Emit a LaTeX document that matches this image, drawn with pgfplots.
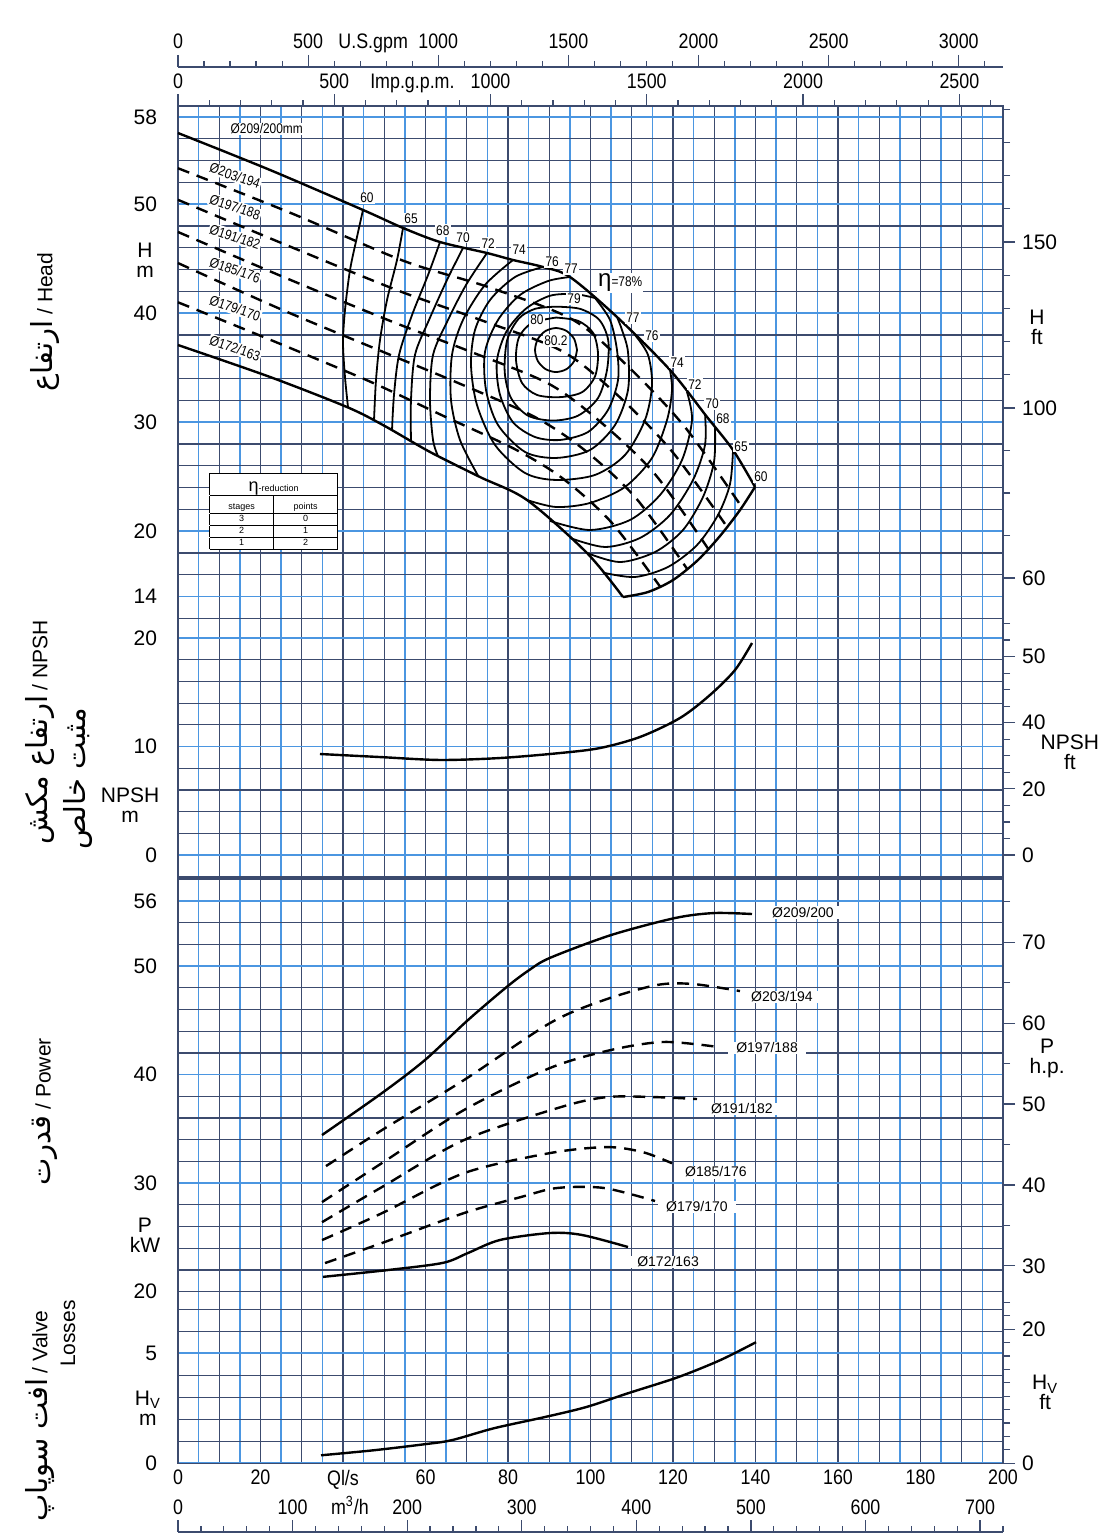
\documentclass[border=0pt]{standalone}
\usepackage{fontspec}
\setmainfont{Liberation Sans}
\newfontfamily\narrowfont[FakeStretch=0.85]{Liberation Sans}
\newfontfamily\farsi[Script=Arabic]{DejaVu Sans}
\usepackage{pgfplots}
\pgfplotsset{compat=1.18}
\TeXXeTstate=1

\definecolor{gdark}{RGB}{60,75,110}
\definecolor{gblue}{RGB}{75,150,225}
\newcommand\tk{\fontsize{10.5}{10}\selectfont}
\newcommand\sm{\narrowfont\fontsize{7}{8}\selectfont}
\newcommand\ttl{\fontsize{10.5}{12}\selectfont}
\newcommand\fa[1]{{\farsi\fontsize{14.5}{15}\selectfont\beginR #1\endR}}

\tikzset{lab/.style={font=\sm, fill=white, inner sep=0.6pt}}
\pgfplotsset{
  panel/.style={
    width=412.5pt, scale only axis, anchor=north west,
    xmin=0, xmax=200, clip=false,
    xtick={0,10,...,200}, minor xtick={5,15,...,195}, xticklabels={},
    grid=both,
    major x grid style={gdark, line width=0.7pt},
    minor x grid style={gblue, line width=0.7pt},
    major y grid style={gblue, line width=0.8pt},
    minor y grid style={gdark, line width=0.6pt},
    major tick length=0pt, minor tick length=0pt,
    axis line style={-, gdark, line width=0.7pt},
    tick label style={font=\tk, /pgf/number format/assume math mode=true},
    yticklabel style={xshift=-7pt},
  },
  rax/.style={
    width=412.5pt, scale only axis, anchor=north west, xmin=0, xmax=200,
    axis x line=none, axis y line*=right, tick align=outside,
    major tick length=6pt, minor tick length=3.5pt,
    tick style={gdark, line width=0.6pt},
    axis line style={draw=none},
    tick label style={font=\tk, /pgf/number format/assume math mode=true},
  },
  sax/.style={
    width=412.5pt, height=10pt, scale only axis, anchor=north west,
    ymin=0, ymax=1, axis y line=none, axis x line*=top, tick align=outside,
    major tick length=6pt, minor tick length=3pt,
    tick style={gdark, line width=0.6pt},
    axis line style={-, gdark, line width=0.8pt},
    xticklabel style={font=\narrowfont\tk, anchor=base, yshift=3pt, /pgf/number format/assume math mode=true, /pgf/number format/1000 sep={}},
    extra x tick style={tick style={draw=none}},
  },
  solid curve/.style={black, line width=1.2pt, smooth},
  dash curve/.style={black, line width=1.2pt, smooth, dash pattern=on 6pt off 4pt},
  eff/.style={black, line width=0.9pt, smooth},
}

\begin{document}
\begin{tikzpicture}
\path[use as bounding box] (0,0) rectangle (554pt,-767.5pt);

% ---------------- head panel
\begin{axis}[panel, at={(89pt,-53.05pt)}, height=256.15pt,
  ymin=12, ymax=59, ytick={14,20,30,40,50,58}, minor ytick={12,14,...,58}]
% impeller curves
\addplot[solid curve] coordinates {(0,56.53) (22.30,53.14) (44.85,49.47) (54.55,47.82) (63.52,46.53) (74.91,45.52) (81.21,44.88) (88.48,44.24) (95.03,43.32) (106.42,39.65) (119.27,34.79) (128.24,30.48) (134.55,27.45) (139.88,24.06)};
\addplot[dash curve] coordinates {(0,53.3) (27.3,49.2) (54.7,44.8) (75.2,42.4) (95.7,39.4) (109.4,35.0) (123.0,29.5) (136.7,22.2)};
\addplot[dash curve] coordinates {(0,50.4) (26.6,46.2) (53.2,42.1) (73.2,39.4) (93.2,36.5) (106.5,32.5) (119.8,27.3) (133.1,20.4)};
\addplot[dash curve] coordinates {(0,47.45) (25.7,43.3) (51.4,39.3) (70.7,36.5) (90.0,33.5) (102.8,29.9) (115.7,25.2) (128.5,18.4)};
\addplot[dash curve] coordinates {(0,44.6) (24.7,40.4) (49.4,36.5) (67.9,33.6) (86.4,30.5) (98.7,27.4) (111.1,23.0) (123.4,16.55)};
\addplot[dash curve] coordinates {(0,41.0) (23.4,37.4) (46.7,33.7) (64.2,30.6) (81.8,27.5) (93.4,24.8) (105.1,20.8) (116.8,14.95)};
\addplot[solid curve] coordinates {(0,37.08) (22.30,34.15) (40.97,31.39) (49.70,29.74) (61.09,27.27) (73.21,24.97) (84.61,22.86) (99.15,18.00) (107.88,13.96)};
% efficiency curves
\addplot[eff] coordinates {(44.85,49.47) (43.39,46.99) (41.70,43.96) (40.48,40.29) (40.0,37.27) (40.48,34.15) (41.21,31.39)};
\addplot[eff] coordinates {(54.55,47.82) (53.09,44.88) (50.67,41.21) (48.97,37.54) (48.0,33.87) (47.52,30.20)};
\addplot[eff] coordinates {(63.52,46.53) (60.61,43.50) (56.73,39.83) (53.58,36.17) (52.36,32.50) (51.88,29.28)};
\addplot[eff] coordinates {(69.09,45.98) (65.21,43.05) (60.85,39.38) (57.45,36.17) (56.48,32.04) (56.48,28.27)};
\addplot[eff] coordinates {(74.91,45.52) (69.82,42.59) (65.45,39.38) (61.82,36.17) (61.09,32.04) (61.82,28.37) (63.03,26.9)};
\addplot[eff] coordinates {(81.21,44.88) (74.42,42.59) (69.09,39.38) (66.42,36.17) (66.18,32.04) (68.36,28.37) (72.73,25.1)};
\addplot[eff] coordinates {(88.48,44.24) (81.70,43.32) (75.64,41.21) (72.0,38.46) (71.03,35.25) (72.48,31.58) (76.85,27.91) (84.12,25.34) (91.64,24.70) (101.09,25.16) (108.36,26.99) (113.21,30.20) (114.91,33.41) (113.94,36.17) (110.79,38.0)};
\addplot[eff] coordinates {(95.03,43.32) (89.70,42.95) (82.91,41.67) (77.58,39.38) (74.42,36.44) (74.67,32.95) (77.58,29.74) (84.12,27.27) (91.64,26.72) (99.88,27.45) (105.94,29.74) (109.09,32.95) (109.09,36.44) (107.64,38.46) (106.42,39.65)};
\addplot[eff] coordinates {(101.09,41.39) (96.24,41.75) (90.18,41.6) (84.3,40.4) (79.6,38.3) (77.3,35.6) (78.0,32.6) (81.2,30.0) (86.55,28.64) (92.61,28.37) (99.39,29.10) (104.24,31.12) (106.67,33.87) (106.42,36.62) (104.73,39.38) (101.09,41.39)};
\addplot[eff] coordinates {(91.64,40.6) (97.45,40.4) (102.1,39.4) (104.3,37.5) (104.0,34.79) (101.82,32.22) (96.97,30.6) (90.91,30.15) (84.85,30.6) (80.73,32.22) (79.2,34.61) (79.8,37.54) (82.6,39.5) (86.55,40.4) (91.64,40.6)};
\addplot[eff] coordinates {(91.64,39.6) (96.97,39.3) (100.61,38.2) (101.82,36.3) (101.09,34.2) (97.94,32.75) (92.61,32.3) (87.03,32.5) (83.39,33.6) (81.94,35.71) (82.67,37.8) (85.82,39.1) (91.64,39.6)};
\addplot[eff] coordinates {(96.73,36.62) (96.05,37.63) (94.19,38.37) (91.64,38.64) (89.10,38.37) (87.23,37.63) (86.55,36.62) (87.23,35.61) (89.10,34.87) (91.64,34.60) (94.19,34.87) (96.05,35.61) (96.73,36.62)};
\addplot[eff] coordinates {(84.61,22.86) (91.64,22.22) (99.88,22.59) (108.36,24.06) (114.91,26.72) (118.55,30.20) (119.76,32.95) (119.27,34.79)};
\addplot[eff] coordinates {(90.18,20.94) (99.88,20.11) (109.58,21.03) (116.85,23.32) (122.18,26.53) (124.61,30.20) (123.39,32.77)};
\addplot[eff] coordinates {(95.03,19.38) (103.52,18.55) (112.0,19.38) (119.27,21.49) (124.85,24.70) (127.76,27.91) (127.76,30.75)};
\addplot[eff] coordinates {(99.15,18.0) (107.15,17.17) (115.64,18.09) (122.42,20.11) (127.27,23.14) (129.94,26.35) (130.18,29.47)};
\addplot[eff] coordinates {(103.03,16.2) (110.79,15.80) (118.79,16.72) (125.82,18.73) (130.91,21.49) (133.82,24.33) (134.55,27.45)};
\addplot[solid curve] coordinates {(107.88,13.96) (113.94,14.42) (120.0,15.52) (126.06,17.36) (131.39,19.56) (136.24,21.94) (139.88,24.06)};
% labels
\node[lab] at (axis cs:21.5,56.9) {Ø209/200mm};
\node[lab, rotate=-19] at (axis cs:13.8,52.6) {Ø203/194};
\node[lab, rotate=-19] at (axis cs:13.8,49.74) {Ø197/188};
\node[lab, rotate=-19] at (axis cs:13.8,47.0) {Ø191/182};
\node[lab, rotate=-19] at (axis cs:13.8,43.96) {Ø185/176};
\node[lab, rotate=-19] at (axis cs:13.8,40.45) {Ø179/170};
\node[lab, rotate=-19] at (axis cs:13.8,36.78) {Ø172/163};
\node[lab] at (axis cs:45.8,50.57) {60};
\node[lab] at (axis cs:56.5,48.64) {65};
\node[lab] at (axis cs:64.2,47.6) {68};
\node[lab] at (axis cs:69.1,46.97) {70};
\node[lab] at (axis cs:75.2,46.42) {72};
\node[lab] at (axis cs:82.7,45.8) {74};
\node[lab] at (axis cs:90.7,44.7) {76};
\node[lab] at (axis cs:95.3,44.05) {77};
\node[lab] at (axis cs:96.0,41.3) {79};
\node[lab] at (axis cs:87.0,39.38) {80};
\node[lab] at (axis cs:91.6,37.5) {80.2};
\node[lab] at (axis cs:110.3,39.56) {77};
\node[lab] at (axis cs:114.9,37.9) {76};
\node[lab] at (axis cs:121.0,35.5) {74};
\node[lab] at (axis cs:125.3,33.49) {72};
\node[lab] at (axis cs:129.5,31.66) {70};
\node[lab] at (axis cs:132.1,30.28) {68};
\node[lab] at (axis cs:136.5,27.8) {65};
\node[lab] at (axis cs:141.3,24.98) {60};
\node[fill=white, inner sep=0.6pt] at (axis cs:107.2,42.77) {{\fontsize{12}{12}\selectfont η}{\sm =78\%}};
\node[fill=white, inner sep=0pt, font=\fontsize{4.5}{5.5}\selectfont] at (axis cs:23.2,21.85)
  {\begin{tabular}{|c|c|}\hline
   \multicolumn{2}{|c|}{\rule{0pt}{9pt}{\fontsize{9}{9}\selectfont η}-reduction}\\\hline
   \rule{0pt}{7pt}\makebox[20pt]{stages} & \makebox[20pt]{points}\\\hline
   3&0\\\hline 2&1\\\hline 1&2\\\hline\end{tabular}};
\node[font=\tk, align=center, inner sep=0pt] at (axis cs:-8,44.9) {H\\m};
\node[font=\tk, align=center, inner sep=0pt] at (axis cs:208.2,38.7) {H\\ft};
\end{axis}
\begin{axis}[rax, at={(89pt,-53.05pt)}, height=256.15pt, ymin=12, ymax=59,
  ytick={15.71,31.30,46.53}, yticklabels={60,100,150},
  minor ytick={19.61,23.51,27.40,34.35,37.39,40.44,43.48,49.58,52.62,55.67,58.7}]
\end{axis}
\begin{axis}[sax, at={(89pt,-53.05pt)}, xmin=0, xmax=2639.64,
  xtick={0,500,...,2500}, minor xtick={100,200,...,2600},
  extra x ticks={750}, extra x tick labels={Imp.g.p.m.}]
\end{axis}
\begin{axis}[sax, at={(89pt,-33.5pt)}, xmin=0, xmax=3170.06,
  xtick={0,500,...,3000}, minor xtick={100,200,...,3100},
  extra x ticks={750}, extra x tick labels={U.S.gpm}]
\end{axis}

% ---------------- NPSH panel
\begin{axis}[panel, at={(89pt,-309.2pt)}, height=129.8pt,
  ymin=-2.12, ymax=21.81, ytick={0,10,20}, minor ytick={-2,0,...,20}]
\addplot[solid curve] coordinates {(34.42,9.31) (48.97,9.03) (63.52,8.76) (78.06,8.94) (92.61,9.40) (102.30,9.86) (112.0,10.88) (121.70,12.63) (128.97,14.75) (135.03,17.05) (139.15,19.54)};
\node[font=\tk, align=center, inner sep=0pt] at (axis cs:-11.6,4.6) {NPSH\\m};
\node[font=\tk, align=center, inner sep=0pt] at (axis cs:216.2,9.5) {NPSH\\ft};
\end{axis}
\begin{axis}[rax, at={(89pt,-309.2pt)}, height=129.8pt, ymin=-2.12, ymax=21.81,
  ytick={0,6.096,12.192,18.288}, yticklabels={0,20,40,50},
  minor ytick={1.524,3.048,4.572,7.62,9.144,10.668,13.716,15.24,16.764,19.812,21.336}]
\end{axis}

% ---------------- power panel
\begin{axis}[panel, at={(89pt,-439pt)}, height=206.8pt,
  ymin=20, ymax=58.12, ytick={20,30,40,50,56}, minor ytick={20,22,...,58}]
\addplot[solid curve] coordinates {(34.91,34.43) (49.45,38.30) (59.88,41.35) (70.30,45.03) (79.76,48.10) (85.0,49.6) (90.18,50.76) (104.97,52.86) (120.48,54.43) (129.94,54.89) (139.15,54.80)};
\addplot[dash curve] coordinates {(35.88,31.57) (49.45,34.89) (69.33,39.50) (90.18,44.75) (103.27,46.87) (116.12,48.26) (124.85,48.35) (136.24,47.70)};
\addplot[dash curve] coordinates {(34.91,28.25) (49.45,31.85) (69.33,36.74) (90.18,40.61) (104.97,42.27) (117.82,43.01) (130.91,42.55)};
\addplot[dash curve] coordinates {(34.91,26.40) (49.45,29.64) (69.33,33.97) (92.85,37.01) (104.0,37.93) (115.39,37.93) (125.82,37.75)};
\addplot[dash curve] coordinates {(34.91,24.75) (49.45,27.23) (69.33,30.92) (90.18,32.77) (104.0,33.32) (112.73,32.85) (119.76,31.83)};
\addplot[dash curve] coordinates {(35.64,22.63) (49.45,24.48) (69.33,27.24) (83.15,28.72) (91.88,29.55) (103.27,29.55) (115.64,28.35)};
\addplot[solid curve] coordinates {(35.15,21.36) (51.15,22.0) (64.24,22.65) (70.30,23.56) (78.06,24.76) (90.18,25.40) (97.94,25.22) (109.09,24.11)};
\node[lab, font=\fontsize{7}{8}\selectfont, inner xsep=4pt] at (axis cs:151.5,54.9) {Ø209/200};
\node[lab, font=\fontsize{7}{8}\selectfont, inner xsep=4pt] at (axis cs:146.4,47.15) {Ø203/194};
\node[lab, font=\fontsize{7}{8}\selectfont, inner xsep=4pt] at (axis cs:142.8,42.45) {Ø197/188};
\node[lab, font=\fontsize{7}{8}\selectfont, inner xsep=4pt] at (axis cs:136.7,36.83) {Ø191/182};
\node[lab, font=\fontsize{7}{8}\selectfont, inner xsep=4pt] at (axis cs:130.4,31.02) {Ø185/176};
\node[lab, font=\fontsize{7}{8}\selectfont, inner xsep=4pt] at (axis cs:125.8,27.8) {Ø179/170};
\node[lab, font=\fontsize{7}{8}\selectfont, inner xsep=4pt] at (axis cs:118.8,22.73) {Ø172/163};
\node[font=\tk, align=center, inner sep=0pt] at (axis cs:-8,25.2) {P\\kW};
\node[font=\tk, align=center, inner sep=0pt] at (axis cs:210.7,41.5) {P\\h.p.};
\end{axis}
\begin{axis}[rax, at={(89pt,-439pt)}, height=206.8pt, ymin=20, ymax=58.12,
  ytick={22.371,29.828,37.285,44.742,52.199}, yticklabels={30,40,50,60,70},
  minor ytick={26.10,33.56,41.01,48.47,55.93}]
\end{axis}

% ---------------- valve loss panel
\begin{axis}[panel, at={(89pt,-645.8pt)}, height=85.8pt,
  ymin=0, ymax=7.8, ytick={0,5}, minor ytick={0,1,...,7},
  xticklabels={0,,20,,Ql/s,,60,,80,,100,,120,,140,,160,,180,,200},
  xticklabel style={font=\narrowfont\tk}]
\addplot[solid curve] coordinates {(34.67,0.36) (47.52,0.59) (59.64,0.86) (66.42,1.05) (76.61,1.59) (88.73,2.09) (98.91,2.55) (109.09,3.18) (121.21,3.91) (131.39,4.68) (140.12,5.50)};
\node[font=\tk, align=center, inner sep=0pt] at (axis cs:-7.3,2.5) {H\textsubscript{V}\\m};
\node[font=\tk, align=center, inner sep=0pt] at (axis cs:210.2,3.2) {H\textsubscript{V}\\ft};
\end{axis}
\begin{axis}[rax, at={(89pt,-645.8pt)}, height=85.8pt, ymin=0, ymax=7.8,
  ytick={0,6.096}, yticklabels={0,20},
  minor ytick={0.6096,1.2192,1.8288,2.4384,3.048,3.6576,4.2672,4.8768,5.4864,6.7056,7.3152}]
\end{axis}
\begin{axis}[sax, at={(89pt,-766pt)}, xmin=0, xmax=720,
  xtick={0,100,...,700}, minor xtick={20,40,...,720},
  extra x ticks={150}, extra x tick labels={m\textsuperscript{3}/h}]
\end{axis}

% ---------------- side titles
\node[rotate=90, font=\ttl] at (22.5pt,-161pt) {\fa{ارتفاع} / Head};
\node[rotate=90, anchor=west, font=\ttl, inner sep=0pt] at (20pt,-422.5pt) {\fa{ارتفاع مکش} / NPSH};
\node[rotate=90, anchor=west, font=\ttl, inner sep=0pt] at (39pt,-425pt) {\fa{مثبت خالص}};
\node[rotate=90, font=\ttl] at (22.5pt,-556pt) {\fa{قدرت} / Power};
\node[rotate=90, anchor=east, font=\ttl, inner sep=0pt] at (20pt,-655pt) {\fa{افت سوپاپ} / Valve};
\node[rotate=90, anchor=east, font=\ttl, inner sep=0pt] at (34pt,-650pt) {Losses};
\end{tikzpicture}
\end{document}
